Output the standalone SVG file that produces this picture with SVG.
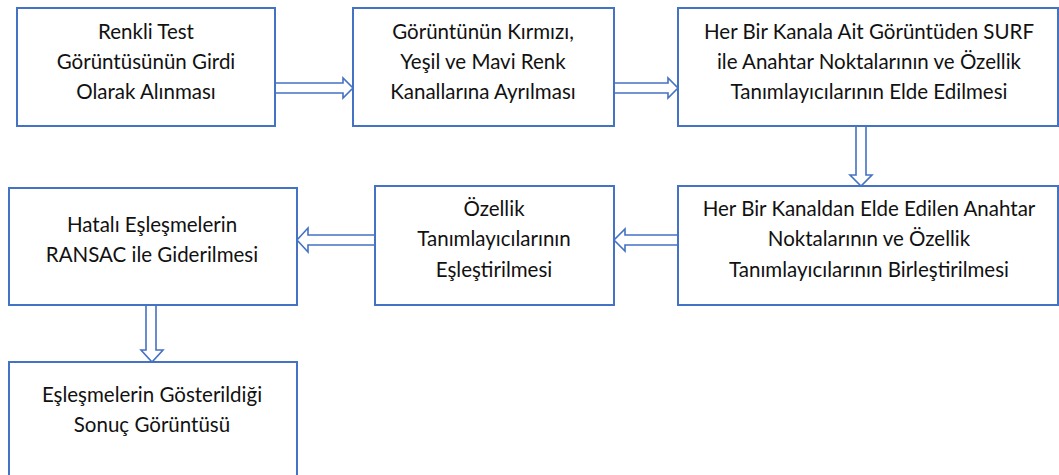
<svg xmlns="http://www.w3.org/2000/svg" width="1059" height="475" viewBox="0 0 1059 475">
<style>
.box{fill:#fff;stroke:#4472C4;stroke-width:2}
.arr{fill:#fff;stroke:#4472C4;stroke-width:1.6;stroke-linejoin:miter}
text{font-family:Lato,"Liberation Sans",sans-serif;font-size:20.5px;fill:#111;text-anchor:middle}
</style>
<rect width="1059" height="475" fill="#fff"/>
<g id="connectors">
<path class="arr" d="M275,83 H343 V78 L353,88 L343,98 V93 H275 Z"/>
<path class="arr" d="M614,83 H668 V78 L678,88 L668,98 V93 H614 Z"/>
<path class="arr" d="M856,126 V175 H850 L861,186 L872,175 H866 V126 Z"/>
<path class="arr" d="M678,235 H625 V229 L614,240 L625,251 V245 H678 Z"/>
<path class="arr" d="M375,235 H308 V228 L297,240 L308,252 V245 H375 Z"/>
<path class="arr" d="M146,305 V350 H141 L152,362 L163,350 H156 V305 Z"/>
</g>
<g id="n1"><rect class="box" x="17" y="8" width="258" height="118"/>
<text x="146" y="39">Renkli Test</text><text x="146" y="69">Görüntüsünün Girdi</text><text x="146" y="99">Olarak Alınması</text></g>
<g id="n2"><rect class="box" x="353" y="8" width="261" height="118"/>
<text x="483" y="39">Görüntünün Kırmızı,</text><text x="483" y="69">Yeşil ve Mavi Renk</text><text x="483" y="99">Kanallarına Ayrılması</text></g>
<g id="n3"><rect class="box" x="678" y="8" width="380" height="118"/>
<text x="869" y="39">Her Bir Kanala Ait Görüntüden SURF</text><text x="869" y="69">ile Anahtar Noktalarının ve Özellik</text><text x="869" y="99">Tanımlayıcılarının Elde Edilmesi</text></g>
<g id="n4"><rect class="box" x="678" y="186" width="380" height="119"/>
<text x="869" y="216">Her Bir Kanaldan Elde Edilen Anahtar</text><text x="869" y="246">Noktalarının ve Özellik</text><text x="869" y="277">Tanımlayıcılarının Birleştirilmesi</text></g>
<g id="n5"><rect class="box" x="375" y="186" width="239" height="119"/>
<text x="494" y="216">Özellik</text><text x="494" y="246">Tanımlayıcılarının</text><text x="494" y="277">Eşleştirilmesi</text></g>
<g id="n6"><rect class="box" x="9" y="188" width="288" height="117"/>
<text x="152" y="232">Hatalı Eşleşmelerin</text><text x="152" y="262">RANSAC ile Giderilmesi</text></g>
<g id="n7"><rect class="box" x="9" y="362" width="288" height="120"/>
<text x="152" y="402">Eşleşmelerin Gösterildiği</text><text x="152" y="432">Sonuç Görüntüsü</text></g>
</svg>
